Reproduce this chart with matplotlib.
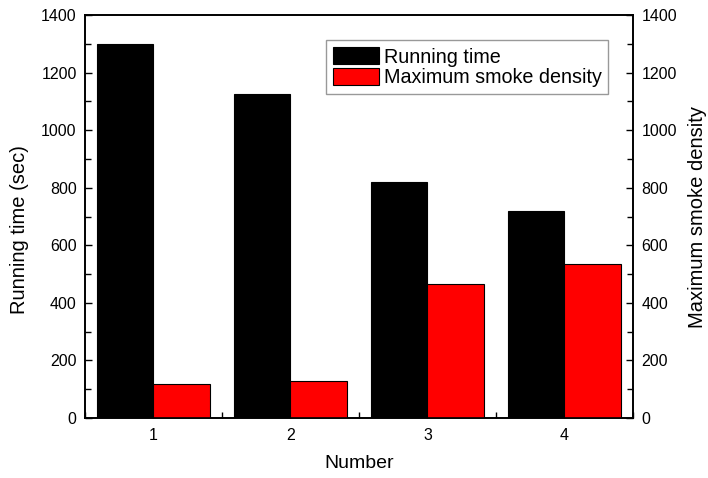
import matplotlib
matplotlib.use("Agg")
import matplotlib.pyplot as plt
from matplotlib.ticker import MultipleLocator

numbers = [1, 2, 3, 4]
running_time = [1300, 1125, 820, 720]
smoke_density = [117, 129, 467, 534]
y_ticks = [0, 200, 400, 600, 800, 1000, 1200, 1400]

plt.rcParams["font.family"] = ["Liberation Sans", "DejaVu Sans"]

fig = plt.figure(figsize=(7.08, 4.78), dpi=100)
ax = fig.add_axes([0.120, 0.1255, 0.774, 0.843])
ax2 = ax.twinx()

width = 0.41
b1 = ax.bar([n - width / 2 for n in numbers], running_time, width=width,
            color="black", edgecolor="black", linewidth=0.8, label="Running time")
b2 = ax2.bar([n + width / 2 for n in numbers], smoke_density, width=width,
             color="#ff0000", edgecolor="black", linewidth=0.8,
             label="Maximum smoke density")

for a in (ax, ax2):
    a.set_ylim(0, 1400)
    a.set_xlim(0.5, 4.5)
    a.set_yticks(y_ticks)
    a.yaxis.set_minor_locator(MultipleLocator(100))
    for s in a.spines.values():
        s.set_linewidth(1.2)

ax.set_xticks(numbers)
ax.xaxis.set_minor_locator(MultipleLocator(0.5))
ax.tick_params(axis="both", which="both", direction="in", labelsize=11.5)
ax.tick_params(axis="both", which="major", length=5, width=1)
ax.tick_params(axis="both", which="minor", length=4, width=1)
ax.tick_params(axis="x", which="major", pad=7)
ax.tick_params(axis="y", right=False, pad=6)
ax2.tick_params(axis="y", which="both", direction="in", labelsize=11.5, pad=6)
ax2.tick_params(axis="y", which="major", length=5, width=1)
ax2.tick_params(axis="y", which="minor", length=4, width=1)

ax.set_xlabel("Number", fontsize=14, labelpad=9)
ax.set_ylabel("Running time (sec)", fontsize=14.5)
ax.yaxis.set_label_coords(-0.102, 0.467)
ax2.set_ylabel("Maximum smoke density", fontsize=14.5, labelpad=8)

leg = ax.legend([b1, b2], ["Running time", "Maximum smoke density"],
                loc="upper right", bbox_to_anchor=(0.955, 0.937),
                fontsize=14.2, fancybox=False, edgecolor="#808080",
                handlelength=2.3, handleheight=0.95, handletextpad=0.25,
                borderpad=0.35, labelspacing=0.05, borderaxespad=0)
leg.get_frame().set_linewidth(1.0)

fig.savefig("out.png", dpi=100)
